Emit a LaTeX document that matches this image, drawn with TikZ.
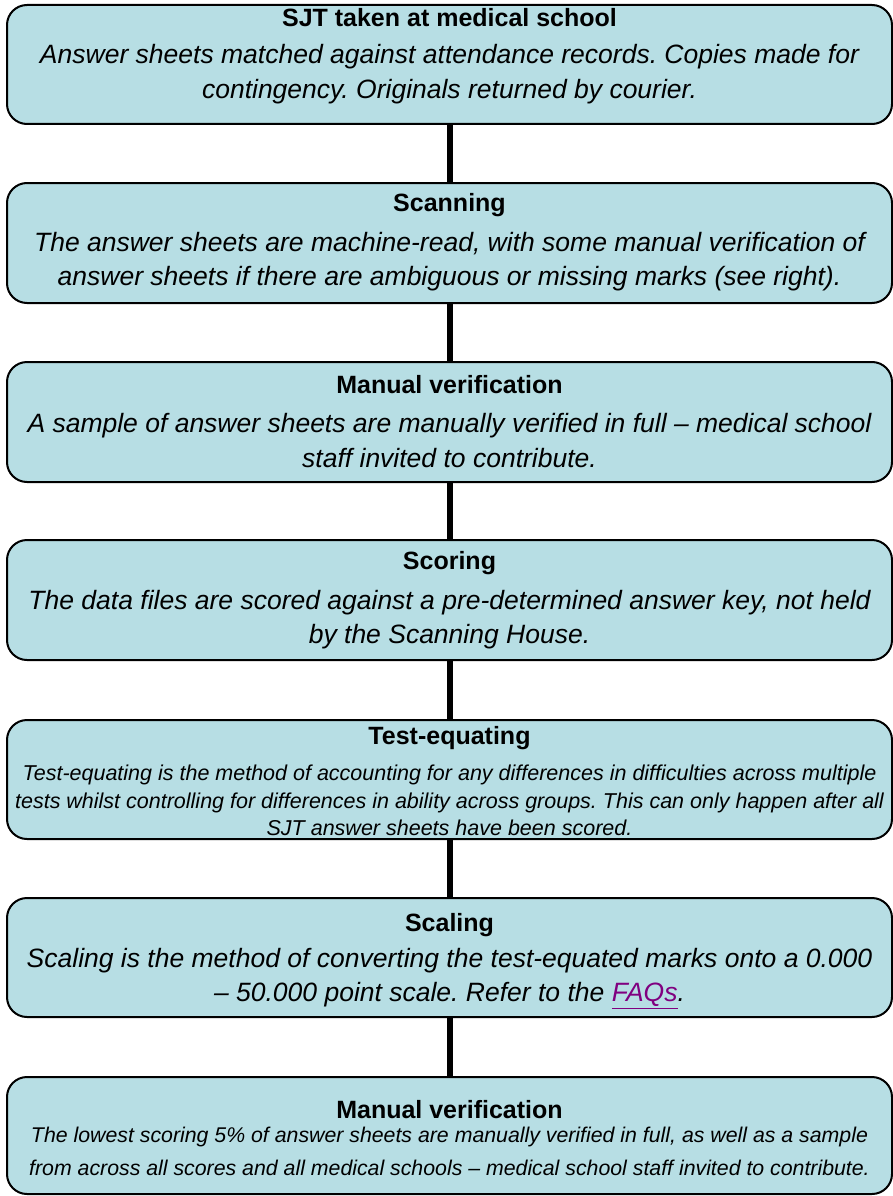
\documentclass[tikz,border=0pt]{standalone}
\usepackage{fontspec}
\setmainfont{Liberation Sans}
\usepackage{tikz}
\frenchspacing
\definecolor{stagefill}{RGB}{183,222,228}
\definecolor{linkpurple}{RGB}{128,0,128}
\tikzset{%
  stagebox/.style   = {shape=rectangle, rounded corners=20pt, draw, line width=2pt,%
                       fill=stagefill, minimum width=885pt, inner sep=0pt},%
  stagetitle/.style = {inner sep=0pt, font=\bfseries\fontsize{25}{30}\selectfont},%
  stagetext/.style  = {inner sep=0pt, align=center, font=\itshape\fontsize{26.5}{34.5}\selectfont},%
  smalltext/.style  = {stagetext, font=\itshape\fontsize{21.5}{27.5}\selectfont},%
  lowtext/.style    = {stagetext, font=\itshape\fontsize{21.3}{33}\selectfont},%
  flow/.style       = {line width=6pt}%
}

\begin{document}
\begin{tikzpicture}[x=1pt,y=-1pt]
		\useasboundingbox (0,0) rectangle (893,1196);
		% boxes
		\node [stagebox, minimum height=119pt] (sjt) at (449.5,64.5) {};
		\node [stagebox, minimum height=120pt] (scan) at (449.5,243) {};
		\node [stagebox, minimum height=120pt] (verify) at (449.5,422) {};
		\node [stagebox, minimum height=120pt] (score) at (449.5,600) {};
		\node [stagebox, minimum height=119pt] (equate) at (449.5,779.5) {};
		\node [stagebox, minimum height=119pt] (scale) at (449.5,957.5) {};
		\node [stagebox, minimum height=117pt] (final) at (449.5,1135.5) {};
		% connectors
		\draw [flow] (sjt.south) -- (scan.north);
		\draw [flow] (scan.south) -- (verify.north);
		\draw [flow] (verify.south) -- (score.north);
		\draw [flow] (score.south) -- (equate.north);
		\draw [flow] (equate.south) -- (scale.north);
		\draw [flow] (scale.south) -- (final.north);
		% texts
		\node [stagetitle] (sjt title) at (449.5,18) {SJT taken at medical school};
		\node [stagetext] (sjt text) at (449.5,74) {Answer sheets matched against attendance records. Copies made for\\contingency. Originals returned by courier.};
		\node [stagetitle] (scan title) at (449.5,205) {Scanning};
		\node [stagetext] (scan text) at (449.5,261.5) {The answer sheets are machine-read, with some manual verification of\\answer sheets if there are ambiguous or missing marks (see right).};
		\node [stagetitle] (verify title) at (449.5,385) {Manual verification};
		\node [stagetext] (verify text) at (449.5,440.5) {A sample of answer sheets are manually verified in full – medical school\\staff invited to contribute.};
		\node [stagetitle] (score title) at (449.5,563) {Scoring};
		\node [stagetext] (score text) at (449.5,619.5) {The data files are scored against a pre-determined answer key, not held\\by the Scanning House.};
		\node [stagetitle] (equate title) at (449.5,738) {Test-equating};
		\node [smalltext] (equate text) at (449.5,800.5) {Test-equating is the method of accounting for any differences in difficulties across multiple\\tests whilst controlling for differences in ability across groups. This can only happen after all\\SJT answer sheets have been scored.};
		\node [stagetitle] (scale title) at (449.5,925) {Scaling};
		\node [stagetext] (scale text) at (449.5,978.5) {Scaling is the method of converting the test-equated marks onto a 0.000\\– 50.000 point scale. Refer to the \textcolor{linkpurple}{\underline{FAQs}}.};
		\node [stagetitle] (final title) at (449.5,1110) {Manual verification};
		\node [lowtext] (final text) at (449.5,1151.5) {The lowest scoring 5\% of answer sheets are manually verified in full, as well as a sample\\from across all scores and all medical schools – medical school staff invited to contribute.};
	\end{tikzpicture}
\end{document}
